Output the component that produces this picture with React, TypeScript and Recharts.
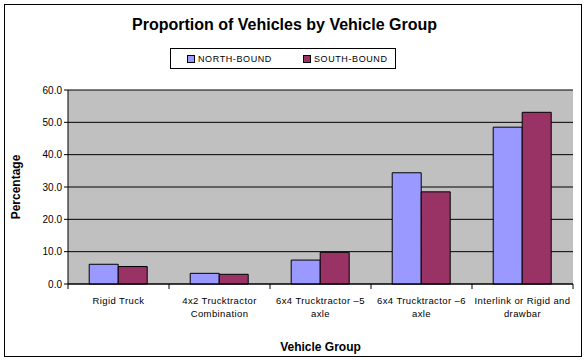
import React from 'react';
import { BarChart, Bar, XAxis, YAxis, CartesianGrid, Legend, Label } from 'recharts';

const categories = [
  'Rigid Truck',
  '4x2 Trucktractor Combination',
  '6x4 Trucktractor –5 axle',
  '6x4 Trucktractor –6 axle',
  'Interlink or Rigid and drawbar',
];
const northBound = [6.1, 3.3, 7.4, 34.4, 48.5];
const southBound = [5.4, 3.0, 9.8, 28.5, 53.1];
const yTicks = [0, 10, 20, 30, 40, 50, 60];

const data = categories.map((c, i) => ({ name: c, north: northBound[i], south: southBound[i] }));

const FONT = 'Arial, "Liberation Sans", sans-serif';

function wrap(text: string, max: number): string[] {
  const words = text.split(' ');
  const lines: string[] = [];
  let cur = '';
  for (const w of words) {
    const next = cur ? cur + ' ' + w : w;
    if (next.length > max && cur) {
      lines.push(cur);
      cur = w;
    } else cur = next;
  }
  if (cur) lines.push(cur);
  return lines;
}

const CatTick = (props: any) => {
  const { x, y, payload, index } = props;
  const half = 50.5;
  const lines = wrap(payload.value, 22);
  return (
    <g>
      <line x1={x - half} x2={x - half} y1={y - 8} y2={y - 3} stroke="#000" />
      {index === categories.length - 1 && (
        <line x1={x + half} x2={x + half} y1={y - 8} y2={y - 3} stroke="#000" />
      )}
      <text x={x} y={y + 12} textAnchor="middle" fontSize={9.5} fontFamily={FONT} fill="#000" letterSpacing={0.4}>
        {lines.map((l, i) => (
          <tspan key={i} x={x} dy={i === 0 ? 0 : 13}>
            {l}
          </tspan>
        ))}
      </text>
    </g>
  );
};

const LegendBox = () => (
  <div
    style={{
      width: 224,
      height: 19,
      border: '1px solid #000',
      background: '#fff',
      display: 'flex',
      alignItems: 'center',
      fontFamily: FONT,
      fontSize: 9,
      letterSpacing: 0.6,
      boxSizing: 'content-box',
    }}
  >
    <span style={{ display: 'inline-block', width: 6, height: 6, background: '#9999FF', border: '1px solid #000', marginLeft: 16, marginRight: 3 }} />
    <span>NORTH-BOUND</span>
    <span style={{ display: 'inline-block', width: 6, height: 6, background: '#993366', border: '1px solid #000', marginLeft: 31, marginRight: 3 }} />
    <span>SOUTH-BOUND</span>
  </div>
);

export default function App() {
  return (
    <div style={{ position: 'absolute', left: 0, top: 0, width: 587, height: 361, background: '#fff' }}>
      <div
        style={{
          position: 'absolute',
          left: 4,
          top: 4,
          width: 576,
          height: 351,
          border: '1px solid #000',
          boxSizing: 'content-box',
        }}
      />
      <div
        style={{
          position: 'absolute',
          left: 0,
          width: 569,
          top: 16,
          textAlign: 'center',
          fontFamily: FONT,
          fontWeight: 'bold',
          fontSize: 16,
          color: '#000',
        }}
      >
        Proportion of Vehicles by Vehicle Group
      </div>
      <BarChart
        width={587}
        height={361}
        data={data}
        margin={{ top: 69, right: 14, bottom: 0, left: 0 }}
        barCategoryGap="21%"
        barGap={0}
        style={{ position: 'absolute', left: 0, top: 0 }}
      >
        <CartesianGrid vertical={false} horizontal={true} stroke="#000" fill="#C0C0C0" strokeOpacity={1} />
        <XAxis
          dataKey="name"
          stroke="#000"
          tickLine={false}
          interval={0}
          tick={<CatTick />}
          height={77}
        >
          <Label value="Vehicle Group" position="insideBottom" offset={10} style={{ fontFamily: FONT, fontWeight: 'bold', fontSize: 12, fill: '#000' }} />
        </XAxis>
        <YAxis
          domain={[0, 60]}
          ticks={yTicks}
          stroke="#000"
          tickSize={4}
          tickFormatter={(v: number) => v.toFixed(1)}
          tick={{ fontFamily: FONT, fontSize: 10, fill: '#000' }}
          width={68}
          interval={0}
        >
          <Label value="Percentage" angle={-90} position="insideLeft" offset={16} style={{ fontFamily: FONT, fontWeight: 'bold', fontSize: 12, fill: '#000', textAnchor: 'middle' }} />
        </YAxis>
        <Legend content={<LegendBox />} layout="horizontal" align="left" verticalAlign="top" wrapperStyle={{ left: 170, top: 48, width: 226 }} />
        <Bar dataKey="north" name="NORTH-BOUND" fill="#9999FF" stroke="#000" strokeWidth={1} isAnimationActive={false} />
        <Bar dataKey="south" name="SOUTH-BOUND" fill="#993366" stroke="#000" strokeWidth={1} isAnimationActive={false} />
      </BarChart>
    </div>
  );
}
